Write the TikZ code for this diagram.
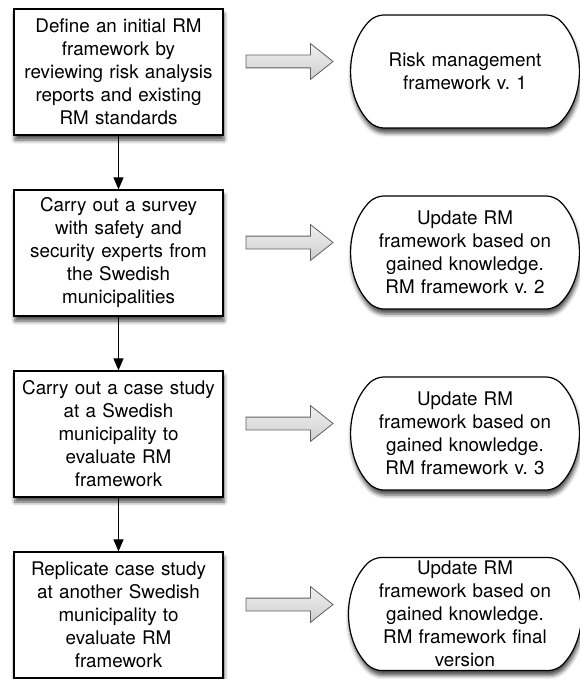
\documentclass[tikz,border=0pt]{standalone}
\usepackage{fontspec}
\setmainfont{TeX Gyre Heros}
\usetikzlibrary{arrows.meta,shapes.arrows,shapes.misc,shadows.blur}

\tikzset{
  stepbox/.style={draw, line width=1.2pt, fill=white, minimum width=209pt,
    minimum height=126pt, text width=200pt, align=center, inner sep=0pt,
    blur shadow={shadow xshift=1pt, shadow yshift=-5pt, shadow blur radius=4pt, shadow opacity=70}},
  resultbox/.style={rounded rectangle, rounded rectangle arc length=90, rounded corners=8pt,
    draw, line width=1.2pt, fill=white,
    minimum width=226pt, minimum height=113pt, text width=190pt, align=center, inner sep=0pt,
    blur shadow={shadow xshift=1pt, shadow yshift=-5pt, shadow blur radius=4pt, shadow opacity=70}},
  fatarrow/.style={single arrow, draw=gray!75!black, line width=0.8pt,
    top color=gray!12, bottom color=gray!38, minimum height=87pt, minimum width=35pt,
    single arrow head extend=11.5pt, single arrow tip angle=77, single arrow head indent=0pt,
    inner xsep=0pt, inner ysep=6pt},
  flow/.style={line width=1pt, -{Triangle[width=10pt,length=12pt]}}
}

\begin{document}
\begin{tikzpicture}[x=1pt, y=-1pt, font=\fontsize{18.8}{23}\selectfont\frenchspacing]
\useasboundingbox (0,0) rectangle (579,679);

    % nodes (research steps)
    \node[stepbox] (s1) at (118.5,72) {Define an initial RM\\ framework by\\ reviewing risk analysis\\ reports and existing\\ RM standards};
    \node[stepbox] (s2) at (118.5,253) {Carry out a survey\\ with safety and\\ security experts from\\ the Swedish\\ municipalities};
    \node[stepbox] (s3) at (118.5,434) {Carry out a case study\\ at a Swedish\\ municipality to\\ evaluate RM\\ framework};
    \node[stepbox] (s4) at (118.5,615) {Replicate case study\\ at another Swedish\\ municipality to\\ evaluate RM\\ framework};

    % nodes (framework versions)
    \node[resultbox] (v1) at (465,71.5) {Risk management\\ framework v. 1};
    \node[resultbox] (v2) at (465,252.5) {Update RM\\ framework based on\\ gained knowledge.\\ RM framework v. 2};
    \node[resultbox] (v3) at (465,433.5) {Update RM\\ framework based on\\ gained knowledge.\\ RM framework v. 3};
    \node[resultbox] (v4) at (465,614) {Update RM\\ framework based on\\ gained knowledge.\\ RM framework final\\ version};

    % fat arrows (step -> version)
    \node[fatarrow] (a1) at (285.5,61.5) {};
    \node[fatarrow] (a2) at (285.5,242.5) {};
    \node[fatarrow] (a3) at (285.5,423.5) {};
    \node[fatarrow] (a4) at (285.5,604.5) {};

    % paths
    \draw[flow] (s1) -- (s2); % survey
    \draw[flow] (s2) -- (s3); % case study
    \draw[flow] (s3) -- (s4); % replication

\end{tikzpicture}
\end{document}
